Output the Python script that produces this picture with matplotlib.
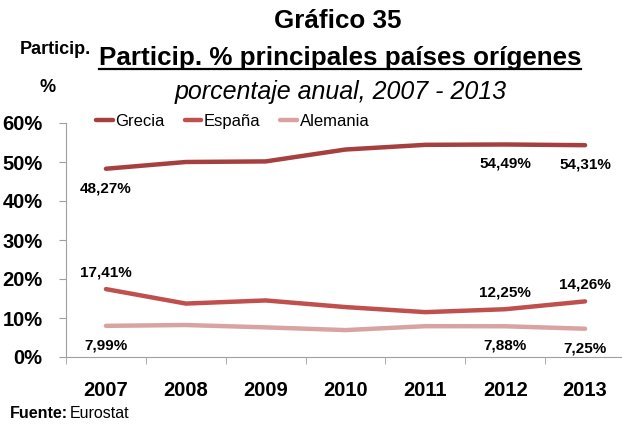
import matplotlib
matplotlib.use("Agg")
import matplotlib.pyplot as plt
from matplotlib.lines import Line2D

# data
years = ["2007", "2008", "2009", "2010", "2011", "2012", "2013"]
grecia = [48.27, 50.0, 50.15, 53.2, 54.4, 54.49, 54.31]
espana = [17.41, 13.7, 14.5, 12.8, 11.5, 12.25, 14.26]
alemania = [7.99, 8.2, 7.6, 6.9, 7.9, 7.88, 7.25]

# which points get a value label, and the vertical offset in points
grecia_labels = {0: -14, 5: -14, 6: -14}
espana_labels = {0: 12, 5: 12, 6: 12}
alemania_labels = {0: -14, 5: -14, 6: -14}

plt.rcParams['font.family'] = ['Liberation Sans', 'DejaVu Sans']

fig = plt.figure(figsize=(6.22, 4.25), dpi=100)
# the category axis runs past the right edge of the picture, as in the original
ax = fig.add_axes([66 / 622, 68 / 425, 559 / 622, 234 / 425])

c_gr = "#A5403F"
c_es = "#C0504D"
c_al = "#D9A3A2"

x = list(range(len(years)))
ax.plot(x, grecia, color=c_gr, lw=3.2, solid_capstyle="round", label="Grecia")
ax.plot(x, espana, color=c_es, lw=3.2, solid_capstyle="round", label="España")
ax.plot(x, alemania, color=c_al, lw=3.2, solid_capstyle="round", label="Alemania")


def fmt(v):
    return f"{v:.2f}".replace(".", ",") + "%"


for series, labels in [(grecia, grecia_labels), (espana, espana_labels), (alemania, alemania_labels)]:
    for i, off in labels.items():
        ax.annotate(fmt(series[i]), (x[i], series[i]), xytext=(0, off),
                    textcoords="offset points", ha="center", va="center",
                    fontsize=11, fontweight="bold")

ax.set_xlim(-0.5, 6.5)
ax.set_ylim(0, 60)
ax.set_yticks([0, 10, 20, 30, 40, 50, 60])
ax.set_yticklabels([f"{v}%" for v in range(0, 70, 10)], fontsize=14.5, fontweight="bold")
ax.set_xticks(x)
ax.set_xticklabels(years, fontsize=14.5, fontweight="bold")
ax.set_xticks([i - 0.5 for i in range(len(years) + 1)], minor=True)
ax.tick_params(axis="x", which="major", length=0, pad=17)
ax.tick_params(axis="x", which="minor", length=5, color="#A0A0A0", direction="out")
ax.tick_params(axis="y", length=5, color="#A0A0A0", pad=12)

for s in ["top", "right"]:
    ax.spines[s].set_visible(False)
ax.spines["left"].set_color("#A0A0A0")
ax.spines["bottom"].set_color("#A0A0A0")

leg = ax.legend(loc="center left", bbox_to_anchor=(30 / 559, 1 + 1.5 / 234), ncol=3,
                frameon=False, prop={"size": 12}, borderaxespad=0, borderpad=0,
                handlelength=1.0, handletextpad=0.15, columnspacing=1.2)

# titles
fig.text(338 / 622, 1 - 21 / 425, "Gráfico 35", ha="center", va="center",
         fontsize=18.7, fontweight="bold")
sub = fig.text(340 / 622, 1 - 58 / 425, "Particip. % principales países orígenes",
               ha="center", va="center", fontsize=18.7, fontweight="bold")
fig.text(341 / 622, 1 - 92 / 425, "porcentaje anual, 2007 - 2013",
         ha="center", va="center", fontsize=18, style="italic")
fig.text(55 / 622, 1 - 50 / 425, "Particip.", ha="center", va="center",
         fontsize=13, fontweight="bold")
fig.text(48 / 622, 1 - 87 / 425, "%", ha="center", va="center",
         fontsize=13, fontweight="bold")

# underline for the second title line
fig.canvas.draw()
bb = sub.get_window_extent().transformed(fig.transFigure.inverted())
fig.add_artist(Line2D([bb.x0, bb.x1], [bb.y0 + 0.002, bb.y0 + 0.002],
                      transform=fig.transFigure, color="black", lw=1.6))

fig.text(10 / 622, 1 - 414 / 425, "Fuente:", ha="left", va="center",
         fontsize=11.5, fontweight="bold")
fig.text(70 / 622, 1 - 414 / 425, "Eurostat", ha="left", va="center", fontsize=11.5)

fig.savefig("out.png", dpi=100)
